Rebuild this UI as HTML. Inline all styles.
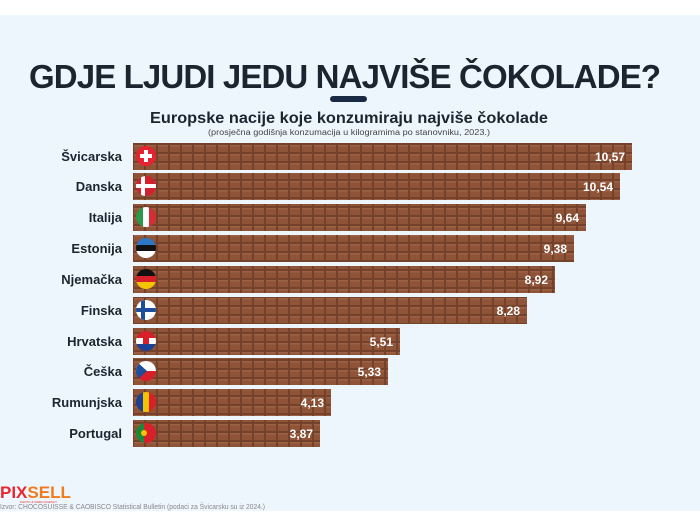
<!DOCTYPE html>
<html><head><meta charset="utf-8"><style>
html,body{margin:0;padding:0;background:#fff}
svg{display:block}
text{font-family:"Liberation Sans",sans-serif}
</style></head><body>
<svg width="700" height="526" viewBox="0 0 700 526">
<defs>
<pattern id="ch" x="133" y="0" width="12" height="9" patternUnits="userSpaceOnUse">
<rect width="12" height="9" fill="#74412b"/>
<rect x="1" y="1" width="10" height="7" fill="#8f5338"/>
<rect x="1" y="1" width="10" height="1.5" fill="#9c6044"/>
</pattern>
</defs>
<rect x="0" y="15" width="700" height="496" fill="#eef6fd"/>
<text x="345" y="88" font-size="33" font-weight="bold" fill="#1b2530" text-anchor="middle" textLength="632" lengthAdjust="spacing">GDJE LJUDI JEDU NAJVIŠE ČOKOLADE?</text>
<rect x="330" y="96" width="37" height="6" rx="3" fill="#1b2a44"/>
<text x="349" y="123" font-size="16" font-weight="bold" fill="#1b2530" text-anchor="middle" textLength="398" lengthAdjust="spacingAndGlyphs">Europske nacije koje konzumiraju najviše čokolade</text>
<text x="349" y="135" font-size="8" fill="#444" text-anchor="middle" textLength="282" lengthAdjust="spacingAndGlyphs">(prosječna godišnja konzumacija u kilogramima po stanovniku, 2023.)</text>
<g>
<rect x="133" y="143" width="499" height="27" fill="url(#ch)"/>
<rect x="133" y="173" width="487" height="27" fill="url(#ch)"/>
<rect x="133" y="204" width="453" height="27" fill="url(#ch)"/>
<rect x="133" y="235" width="441" height="27" fill="url(#ch)"/>
<rect x="133" y="266" width="422" height="27" fill="url(#ch)"/>
<rect x="133" y="297" width="394" height="27" fill="url(#ch)"/>
<rect x="133" y="328" width="267" height="27" fill="url(#ch)"/>
<rect x="133" y="358" width="255" height="27" fill="url(#ch)"/>
<rect x="133" y="389" width="198" height="27" fill="url(#ch)"/>
<rect x="133" y="420" width="187" height="27" fill="url(#ch)"/>
</g>
<g font-size="13" font-weight="bold" fill="#1b2530" text-anchor="end">
<text x="122" y="161">Švicarska</text>
<text x="122" y="191">Danska</text>
<text x="122" y="222">Italija</text>
<text x="122" y="253">Estonija</text>
<text x="122" y="284">Njemačka</text>
<text x="122" y="315">Finska</text>
<text x="122" y="346">Hrvatska</text>
<text x="122" y="376">Češka</text>
<text x="122" y="407">Rumunjska</text>
<text x="122" y="438">Portugal</text>
</g>
<g font-size="12" font-weight="bold" fill="#fff" text-anchor="end">
<text x="625" y="161">10,57</text>
<text x="613" y="191">10,54</text>
<text x="579" y="222">9,64</text>
<text x="567" y="253">9,38</text>
<text x="548" y="284">8,92</text>
<text x="520" y="315">8,28</text>
<text x="393" y="346">5,51</text>
<text x="381" y="376">5,33</text>
<text x="324" y="407">4,13</text>
<text x="313" y="438">3,87</text>
</g>
<g>
<circle cx="146" cy="156" r="10" fill="#e52330"/><rect x="140" y="154" width="12" height="4" fill="#fff"/><rect x="144" y="150" width="4" height="12" fill="#fff"/>
<clipPath id="c2"><circle cx="146" cy="186" r="10"/></clipPath><g clip-path="url(#c2)"><rect x="136" y="176" width="20" height="20" fill="#d3202e"/><rect x="136" y="184" width="20" height="4" fill="#fff"/><rect x="141" y="176" width="4" height="20" fill="#fff"/></g>
<clipPath id="c3"><circle cx="146" cy="217" r="10"/></clipPath><g clip-path="url(#c3)"><rect x="136" y="207" width="7" height="20" fill="#2a9a48"/><rect x="143" y="207" width="6" height="20" fill="#fff"/><rect x="149" y="207" width="7" height="20" fill="#d82b32"/></g>
<clipPath id="c4"><circle cx="146" cy="248" r="10"/></clipPath><g clip-path="url(#c4)"><rect x="136" y="238" width="20" height="7" fill="#2e76c6"/><rect x="136" y="245" width="20" height="6" fill="#111"/><rect x="136" y="251" width="20" height="7" fill="#fff"/></g>
<clipPath id="c5"><circle cx="146" cy="279" r="10"/></clipPath><g clip-path="url(#c5)"><rect x="136" y="269" width="20" height="7" fill="#111"/><rect x="136" y="276" width="20" height="6" fill="#d8202a"/><rect x="136" y="282" width="20" height="7" fill="#f5c400"/></g>
<circle cx="146" cy="310" r="10" fill="#fff"/><clipPath id="c6"><circle cx="146" cy="310" r="10"/></clipPath><g clip-path="url(#c6)"><rect x="136" y="308" width="20" height="4" fill="#1d4e9a"/><rect x="141" y="300" width="4" height="20" fill="#1d4e9a"/></g>
<clipPath id="c7"><circle cx="146" cy="341" r="10"/></clipPath><g clip-path="url(#c7)"><rect x="136" y="331" width="20" height="7" fill="#d8202a"/><rect x="136" y="338" width="20" height="6" fill="#fff"/><rect x="136" y="344" width="20" height="7" fill="#1d3f94"/><rect x="143" y="337" width="6" height="7" fill="#d8202a"/></g>
<clipPath id="c8"><circle cx="146" cy="371" r="10"/></clipPath><g clip-path="url(#c8)"><rect x="136" y="361" width="20" height="10" fill="#fff"/><rect x="136" y="371" width="20" height="10" fill="#d8202a"/><polygon points="136,361 147,371 136,381" fill="#1d4e9a"/></g>
<clipPath id="c9"><circle cx="146" cy="402" r="10"/></clipPath><g clip-path="url(#c9)"><rect x="136" y="392" width="7" height="20" fill="#1d3f94"/><rect x="143" y="392" width="6" height="20" fill="#f5c400"/><rect x="149" y="392" width="7" height="20" fill="#d8202a"/></g>
<clipPath id="c10"><circle cx="146" cy="433" r="10"/></clipPath><g clip-path="url(#c10)"><rect x="136" y="423" width="8" height="20" fill="#1a8a3a"/><rect x="144" y="423" width="12" height="20" fill="#d8202a"/><circle cx="144" cy="433" r="3" fill="#f5c400"/></g>
</g>
<text x="0" y="498" font-size="17" font-weight="bold"><tspan fill="#e8262e">PIX</tspan><tspan fill="#f07a1e">SELL</tspan></text>
<text x="20" y="503" font-size="3" fill="#e8262e">PHOTO &amp; VIDEO AGENCY</text>
<text x="0" y="509" font-size="7" fill="#888" textLength="265" lengthAdjust="spacingAndGlyphs">Izvor: CHOCOSUISSE &amp; CAOBISCO Statistical Bulletin (podaci za Švicarsku su iz 2024.)</text>
</svg>
</body></html>
